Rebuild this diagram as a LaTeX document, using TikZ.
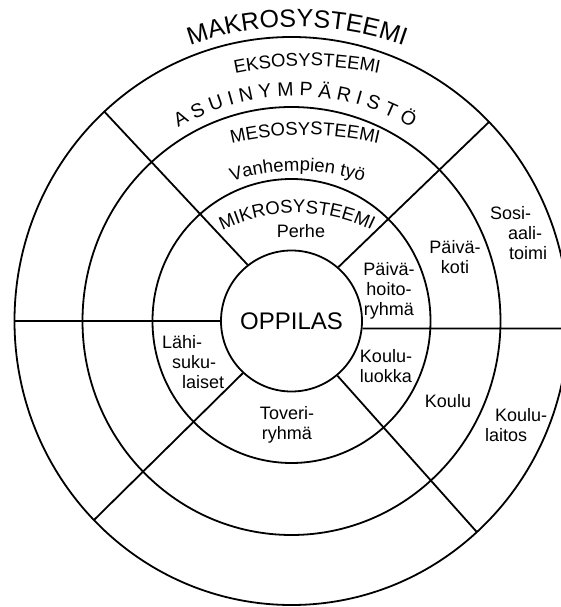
\documentclass[tikz,border=0pt]{standalone}
\usepackage{fontspec}
\setmainfont{Liberation Sans}
\usetikzlibrary{decorations.text}
\newcommand\bigfont{\fontsize{25}{25}\selectfont}
\newcommand\midfont{\fontsize{18.5}{18.5}\selectfont}
\newcommand\handfont{\fontsize{19.5}{19.5}\selectfont}
\tikzset{
  ring/.style={line width=1.8pt, draw=black},
  spoke/.style={line width=1.8pt, draw=black, line cap=butt},
  place/.style={font=\fontsize{18}{20}\selectfont, inner sep=0pt, align=center},
  curved/.style={decorate, decoration={text along path, text align=center, text={#1}}},
}

\begin{document}
\begin{tikzpicture}[x=1pt, y=1pt]
\useasboundingbox (-291.5,-286) rectangle (269.5,321);
\clip (-291.5,-286) rectangle (269.5,321);
% rings
\node[circle, ring, minimum size=141pt, inner sep=0pt, font=\fontsize{24}{24}\selectfont] (oppilas) at (0,0) {OPPILAS};
\draw[ring] (0,0) ellipse [x radius=139, y radius=142];
\draw[ring] (0,0) ellipse [x radius=209, y radius=214];
\draw[ring] (0,0) ellipse [x radius=277, y radius=284];
% spokes
\coordinate (rim-ne) at (44.5:277 and 284);
\coordinate (rim-nw) at (132.5:277 and 284);
\coordinate (rim-sw) at (224.5:277 and 284);
\coordinate (rim-se) at (312:277 and 284);
\coordinate (rim-w) at (180:277 and 284);
\coordinate (rim-e) at (-1.5:277 and 284);
\draw[spoke] (oppilas.49) -- (rim-ne);
\draw[spoke] (oppilas.128) -- (rim-nw);
\draw[spoke] (oppilas.227) -- (rim-sw);
\draw[spoke] (oppilas.310) -- (rim-se);
\draw[spoke] (oppilas.180) -- (rim-w);
\draw[spoke] (oppilas.-6) -- (rim-e);
% system names
\path[curved={|\bigfont|MAKROSYSTEEMI}] ([shift={(5.5,-26)}]120:320) arc[start angle=120, end angle=60, radius=320];
\path[curved={|\midfont|EKSOSYSTEEMI}] ([shift={(15.5,-95)}]120:350) arc[start angle=120, end angle=60, radius=350];
\path[curved={|\handfont|A S U I N Y M P Ä R I S T Ö}] ([shift={(3.5,-5)}]140:230) arc[start angle=140, end angle=40, radius=230];
\path[curved={|\midfont|MESOSYSTEEMI}] ([shift={(13.5,-134)}]120:320) arc[start angle=120, end angle=60, radius=320];
\path[curved={|\midfont|Vanhempien työ}] ([shift={(6,-60)}]140:210) arc[start angle=140, end angle=40, radius=210];
\path[curved={|\midfont|MIKROSYSTEEMI}] ([shift={(5.5,-62)}]140:170) arc[start angle=140, end angle=40, radius=170];
% settings
\node[place] (perhe) at (9.5,90) {Perhe};
\node[place] (hoito) at (97.5,30) {Päivä-\\hoito-\\ryhmä};
\node[place] (luokka) at (94.5,-45) {Koulu-\\luokka};
\node[place] (toveri) at (-4.5,-104) {Toveri-\\ryhmä};
\node[place, align=left, anchor=west] (suku) at (-129.5,-41) {Lähi-\\\hspace*{10pt}suku-\\\hspace*{20pt}laiset};
\node[place] (koti) at (163.5,64) {Päivä-\\koti};
\node[place, align=left, anchor=west] (sosiaali) at (198.5,88) {Sosi-\\\hspace*{18pt}aali-\\\hspace*{19pt}toimi};
\node[place] (koulu) at (156.5,-80) {Koulu};
\node[place, align=left, anchor=west] (laitos) at (193.5,-104) {\hspace*{10pt}Koulu-\\laitos};
\end{tikzpicture}
\end{document}
